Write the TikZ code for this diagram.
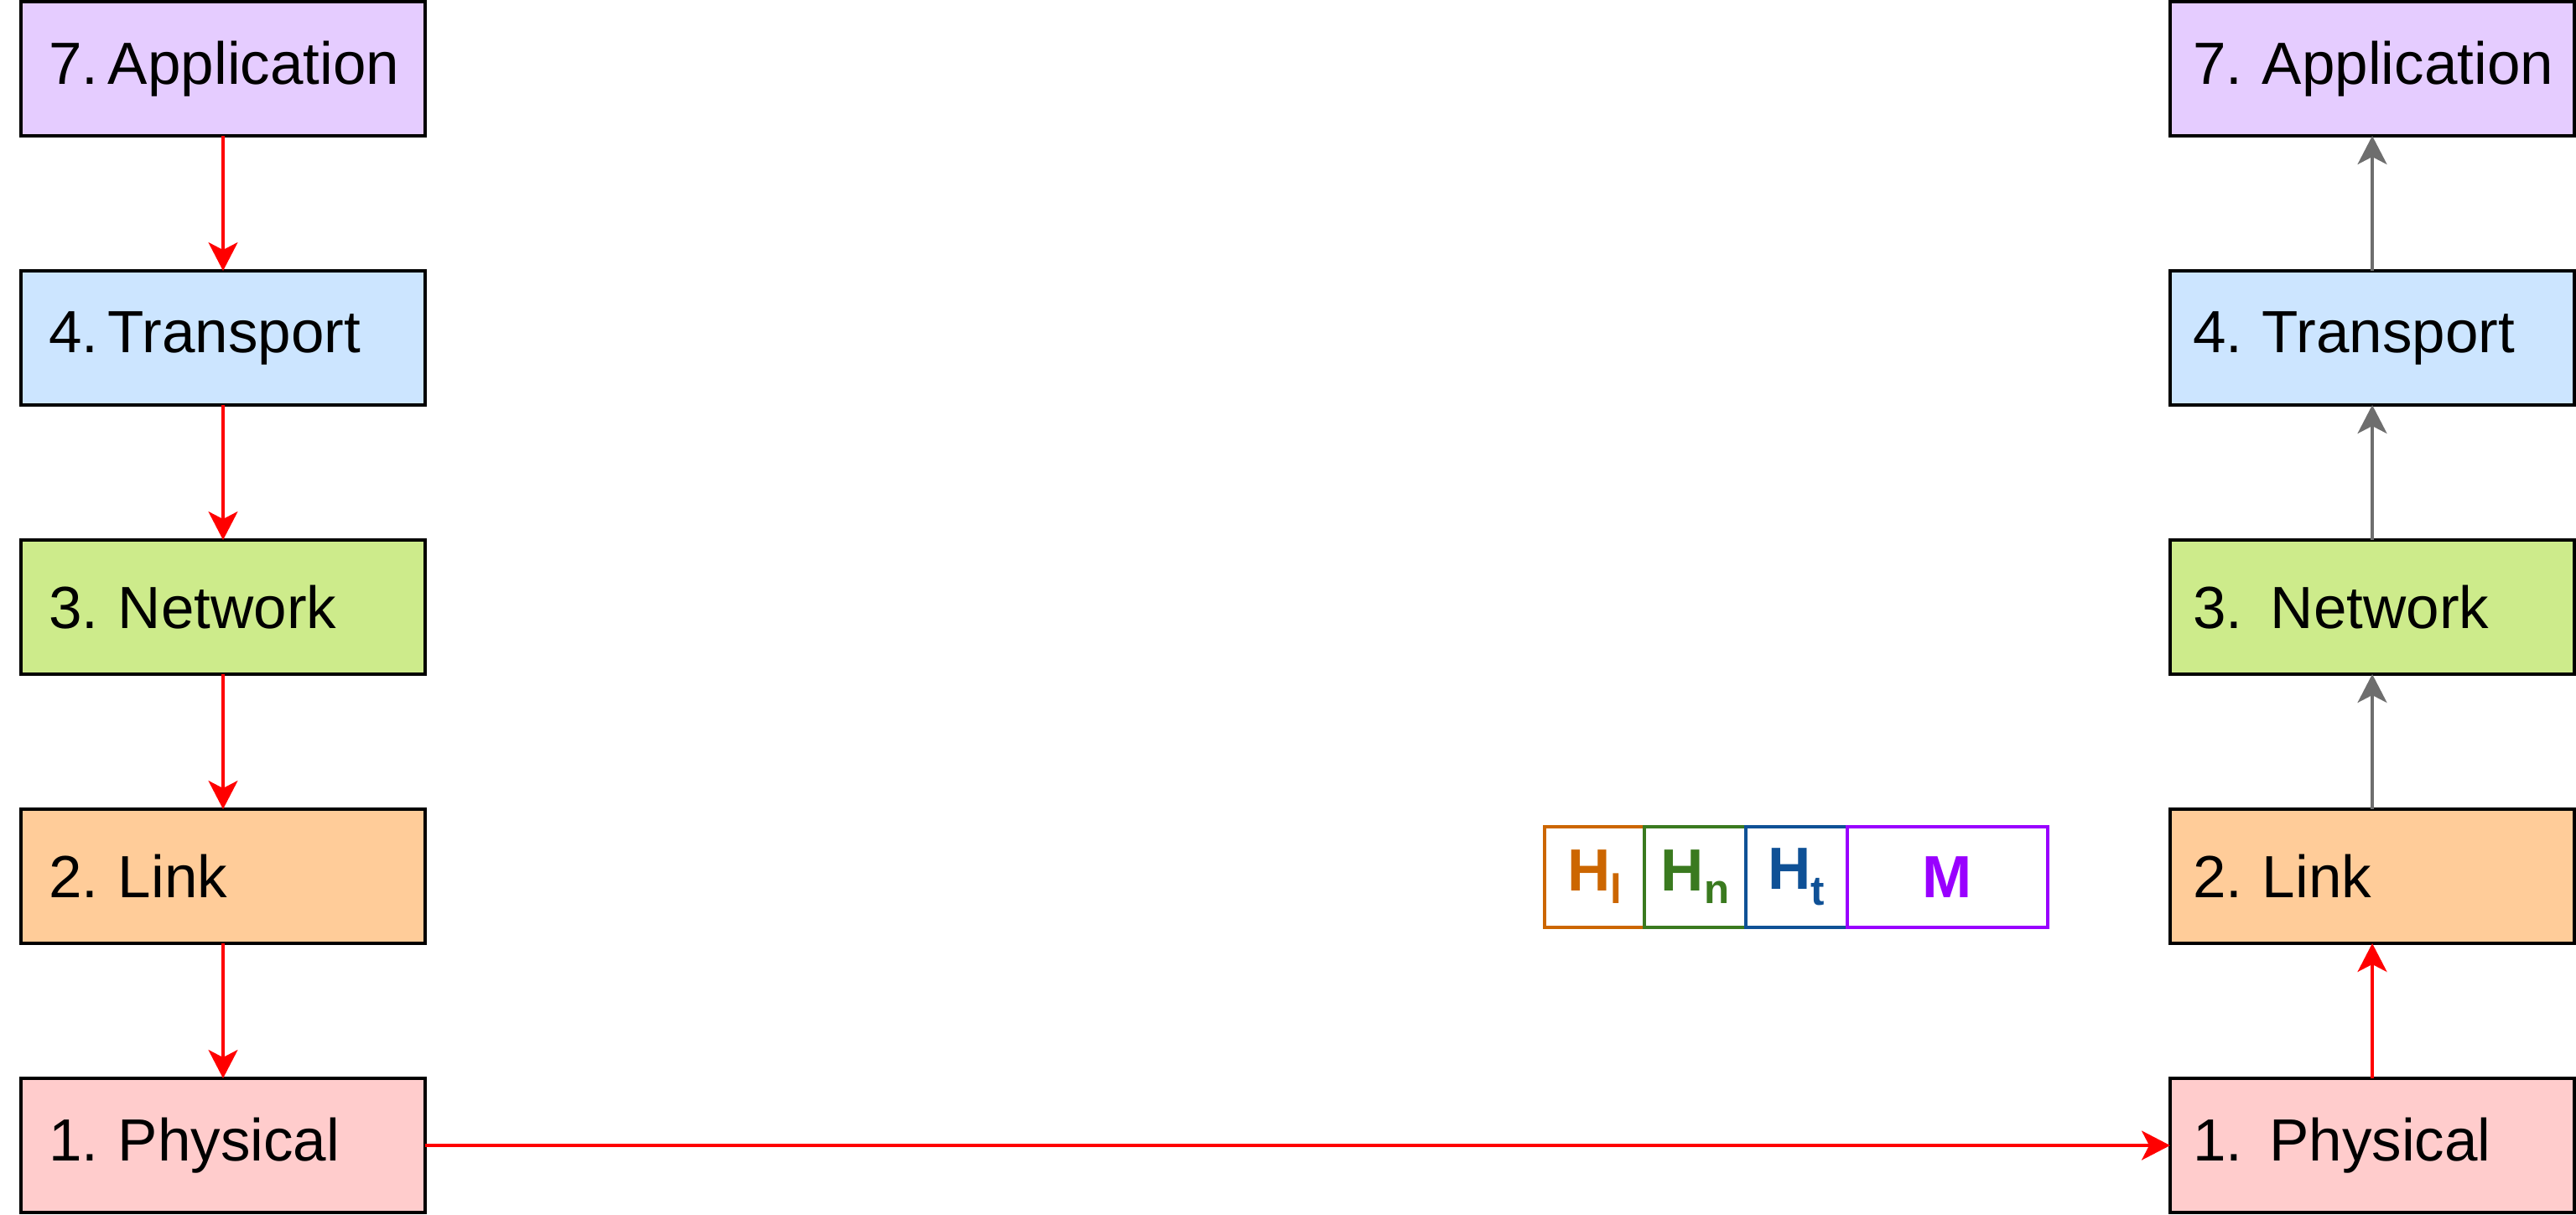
\documentclass[tikz,border=0pt]{standalone}
\usepackage{fontspec}
\setmainfont{Liberation Sans}
\usetikzlibrary{positioning,arrows.meta}
\definecolor{appfill}{HTML}{E5CCFF}
\definecolor{trnfill}{HTML}{CCE5FF}
\definecolor{netfill}{HTML}{CDEB8B}
\definecolor{lnkfill}{HTML}{FFCC99}
\definecolor{phyfill}{HTML}{FFCCCC}
\definecolor{hlcol}{HTML}{CC6600}
\definecolor{hncol}{HTML}{3A7A1F}
\definecolor{htcol}{HTML}{0F5196}
\definecolor{mcol}{HTML}{9900FF}
\definecolor{upgray}{HTML}{6E6E6E}
\tikzset{
  lay/.style={rectangle,draw,line width=0.9pt,minimum height=1.6cm,align=left,font=\fontsize{20.2}{24}\selectfont,outer sep=0pt},
  layl/.style={lay,text width=4.16cm,inner xsep=0.33cm},
  layr/.style={lay,text width=4.28cm,inner xsep=0.27cm},
  cell/.style={rectangle,draw,line width=0.9pt,minimum height=1.2cm,font=\fontsize{20.2}{24}\selectfont\bfseries,outer sep=0pt,inner sep=0pt},
  arr/.style={-{Stealth[length=0.34cm,width=0.35cm,inset=0.09cm]},line width=0.9pt},
}
\newcommand{\hsub}[2][0.15cm]{\raisebox{-#1}{\fontsize{14}{14}\selectfont #2}}
\frenchspacing
\hyphenpenalty=10000
\hbadness=10000
\hfuzz=20pt

\begin{document}
\begin{tikzpicture}[node distance=1.61cm]
  \useasboundingbox (0,0) rectangle (30.72,-14.48);
  % sender stack
  \node[layl,fill=appfill] (app1) at (2.66,-0.82) {7.\,Application};
  \node[layl,fill=trnfill,below=of app1] (trn1) {4.\,Transport};
  \node[layl,fill=netfill,below=of trn1] (net1) {3. Network};
  \node[layl,fill=lnkfill,below=of net1] (lnk1) {2. Link};
  \node[layl,fill=phyfill,below=of lnk1] (phy1) {1. Physical};
  % receiver stack
  \node[layr,fill=appfill] (app2) at (28.29,-0.82) {7.~Application};
  \node[layr,fill=trnfill,below=of app2] (trn2) {4. Transport};
  \node[layr,fill=netfill,below=of trn2] (net2) {3.\hspace{0.14em} Network};
  \node[layr,fill=lnkfill,below=of net2] (lnk2) {2. Link};
  \node[layr,fill=phyfill,below=of lnk2] (phy2) {1.\hspace{0.12em} Physical};
  % packet
  \node[cell,draw=hlcol,text=hlcol,minimum width=1.19cm] (hl) at (19.015,-10.46) {H\hsub{l}};
  \node[cell,draw=hncol,text=hncol,minimum width=1.21cm,right=0pt of hl] (hn) {H\hsub{n}};
  \node[cell,draw=htcol,text=htcol,minimum width=1.21cm,right=0pt of hn] (ht) {H\hsub[0.19cm]{t}};
  \node[cell,draw=mcol,text=mcol,minimum width=2.39cm,right=0pt of ht] (msg) {M};
  % down the sender
  \draw[arr,red] (app1) -- (trn1);
  \draw[arr,red] (trn1) -- (net1);
  \draw[arr,red] (net1) -- (lnk1);
  \draw[arr,red] (lnk1) -- (phy1);
  \draw[arr,red] (phy1) -- (phy2);
  % up the receiver
  \draw[arr,red] (phy2) -- (lnk2);
  \draw[arr,upgray] (lnk2) -- (net2);
  \draw[arr,upgray] (net2) -- (trn2);
  \draw[arr,upgray] (trn2) -- (app2);
\end{tikzpicture}
\end{document}
